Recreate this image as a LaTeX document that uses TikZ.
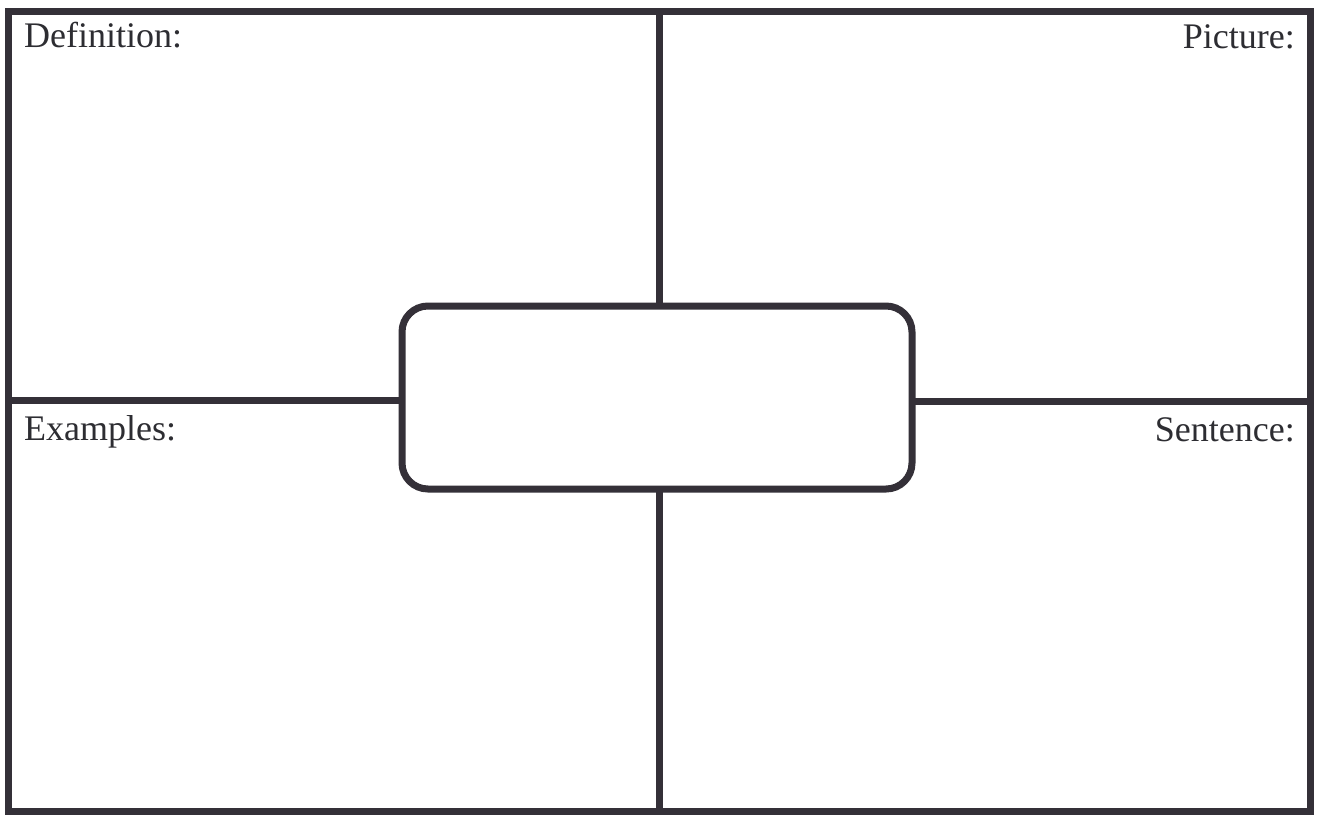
\documentclass[tikz,border=0pt]{standalone}
\usepackage{fontspec}
\setmainfont{Liberation Serif}
\definecolor{ink}{RGB}{52,48,56}
\definecolor{txt}{RGB}{45,45,50}
\begin{document}
\begin{tikzpicture}[x=1pt,y=-1pt,
  line/.style={draw=ink,line width=7pt},
  label/.style={text=txt,font=\fontsize{36}{40}\selectfont,inner sep=0pt}]
\useasboundingbox (0,0) rectangle (1321,817);
\fill[white] (0,0) rectangle (1321,817);
% outer frame
\node[line,rectangle,minimum width=1302pt,minimum height=800pt,inner sep=0pt] (frame) at (659,411) {};
% centre box
\node[line,rectangle,rounded corners=26pt,minimum width=510pt,minimum height=183pt,inner sep=0pt,fill=white] (box) at (657,397.5) {};
% connector end points
\coordinate (topv) at (659,11);
\coordinate (boxtop) at (659,306);
\coordinate (boxbot) at (659,489);
\coordinate (botv) at (659,811);
\coordinate (leftf) at (8,400);
\coordinate (boxl) at (402,400);
\coordinate (boxr) at (912,401);
\coordinate (rightf) at (1310,401);
\draw[line] (topv) -- (boxtop);
\draw[line] (boxbot) -- (botv);
\draw[line] (leftf) -- (boxl);
\draw[line] (boxr) -- (rightf);
% labels
\node[label,anchor=base west] (def) at (24,47) {Definition:};
\node[label,anchor=base east] (pic) at (1295,48) {Picture:};
\node[label,anchor=base west] (ex) at (24,440) {Examples:};
\node[label,anchor=base east] (sen) at (1295,441) {Sentence:};
\end{tikzpicture}
\end{document}
